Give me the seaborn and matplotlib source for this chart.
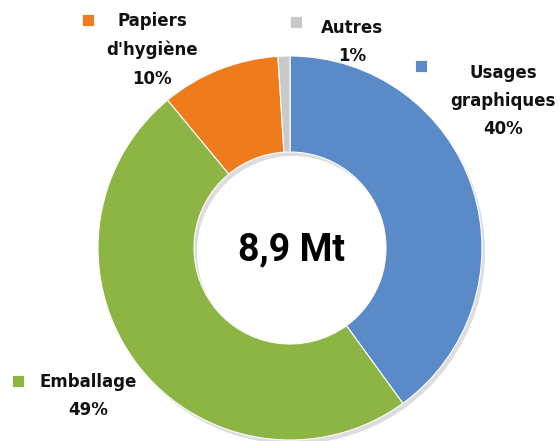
import matplotlib.pyplot as plt
import seaborn as sns

# données
categories = ['Usages\ngraphiques', 'Emballage', "Papiers\nd'hygiène", 'Autres']
values = [40, 49, 10, 1]
total_label = '8,9 Mt'

colors = ['#5A8AC8', '#8DB544', '#EE7B1C', '#C9C9C9']
# position des étiquettes (pixels, origine en haut à gauche)
label_pos = [(503, 101), (88, 396), (152, 50), (352, 42)]
marker_pos = [(421, 66), (18, 381), (88, 20), (296, 22)]

sns.set_theme(style='white')
plt.rcParams['font.family'] = ['DejaVu Sans']

fig = plt.figure(figsize=(5.6, 4.41), dpi=100)
ax = fig.add_axes([0, 0, 1, 1])
H = 441

cx, cy, r = 290, H - 248, 192
w = r * 0.5
# ombre légère
ax.pie(values, radius=r, center=(cx + 3, cy - 4), startangle=90, counterclock=False,
       colors=['#00000022'] * 4, wedgeprops=dict(width=w, linewidth=0))
ax.pie(values, radius=r, center=(cx, cy), startangle=90, counterclock=False,
       colors=colors, wedgeprops=dict(width=w, edgecolor='white', linewidth=0.8))

ax.text(cx + 2, cy - 2, total_label, ha='center', va='center', fontsize=27,
        fontweight='bold', color='black', family=['Roboto', 'DejaVu Sans'])

for cat, v, (x, y), (mx, my), c in zip(categories, values, label_pos, marker_pos, colors):
    ax.text(x, H - y, f'{cat}\n{v}%', ha='center', va='center', fontsize=12,
            fontweight='bold', linespacing=1.75, color='#111111')
    ax.scatter([mx], [H - my], marker='s', s=70, color=c, edgecolors='#ffffff', linewidths=0.6)

ax.set_xlim(0, 560)
ax.set_ylim(0, H)
ax.set_aspect('equal')
ax.axis('off')

fig.savefig('out.png', dpi=100)
